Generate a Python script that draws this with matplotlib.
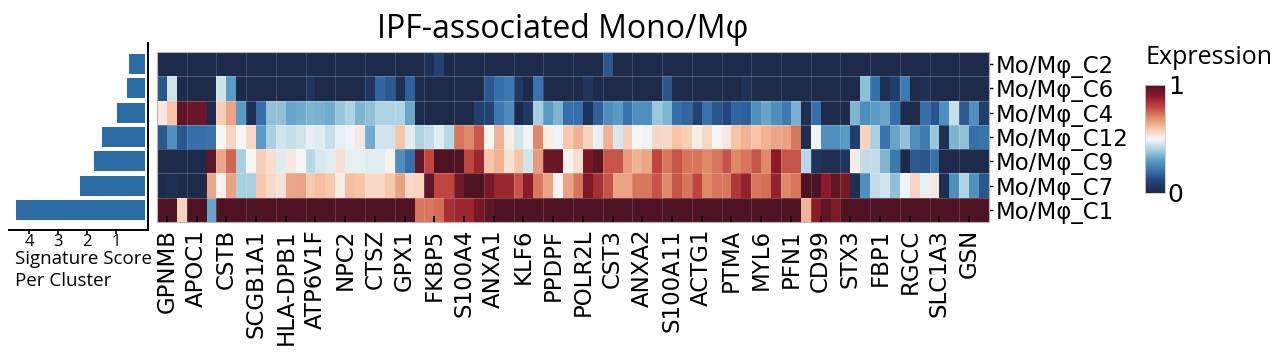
import numpy as np
import matplotlib
matplotlib.use("Agg")
import matplotlib.pyplot as plt
from matplotlib.colors import LinearSegmentedColormap, Normalize
from matplotlib.cm import ScalarMappable

# ---------------------------------------------------------------- data
genes = ["GPNMB", "APOC1", "CSTB", "SCGB1A1", "HLA-DPB1", "ATP6V1F", "NPC2",
         "CTSZ", "GPX1", "FKBP5", "S100A4", "ANXA1", "KLF6", "PPDPF", "POLR2L",
         "CST3", "ANXA2", "S100A11", "ACTG1", "PTMA", "MYL6", "PFN1", "CD99",
         "STX3", "FBP1", "RGCC", "SLC1A3", "GSN"]
clusters = ["Mo/Mφ_C2", "Mo/Mφ_C6", "Mo/Mφ_C4", "Mo/Mφ_C12",
            "Mo/Mφ_C9", "Mo/Mφ_C7", "Mo/Mφ_C1"]
scores = [0.55, 0.63, 0.97, 1.49, 1.75, 2.24, 4.45]

# scaled expression, 84 genes per cluster (only every third gene is labelled)
expr_c2 = [0, 0, 0, 0, 0, 0, 0, 0, 0, 0, 0, 0,
           0, 0, 0, 0, 0, 0, 0, 0, 0, 0, 0, 0,
           0, 0, 0, 0.03, 0.1, 0, 0, 0, 0, 0, 0, 0,
           0, 0, 0, 0, 0, 0, 0, 0, 0, 0.15, 0, 0,
           0, 0, 0, 0, 0, 0, 0, 0, 0, 0, 0, 0,
           0, 0, 0, 0, 0, 0, 0, 0, 0, 0, 0, 0,
           0, 0, 0, 0, 0, 0, 0, 0, 0, 0, 0, 0]
expr_c6 = [0.15, 0.45, 0, 0, 0, 0, 0.45, 0.3, 0, 0, 0, 0,
           0, 0, 0, 0.05, 0, 0, 0, 0, 0, 0.05, 0.18, 0.16,
           0.03, 0.17, 0, 0, 0, 0, 0, 0, 0, 0.15, 0.2, 0.22,
           0.06, 0, 0.21, 0, 0, 0, 0, 0.05, 0, 0, 0, 0,
           0, 0, 0, 0.15, 0, 0, 0, 0, 0, 0, 0, 0.04,
           0, 0, 0, 0, 0, 0, 0, 0, 0, 0, 0, 0.37,
           0.2, 0.02, 0.08, 0.22, 0, 0.03, 0, 0, 0, 0, 0, 0]
expr_c4 = [0.53, 0.6, 0.97, 0.95, 0.95, 0, 0.58, 0.65, 0.3, 0.02, 0.2, 0.37,
           0.37, 0.32, 0.33, 0.35, 0.34, 0.33, 0.38, 0.41, 0.35, 0.37, 0.41, 0.41,
           0.41, 0.32, 0, 0, 0, 0, 0, 0, 0.09, 0.1, 0.22, 0.26,
           0, 0.06, 0.4, 0.3, 0.35, 0.2, 0.2, 0.04, 0.17, 0.27, 0.3, 0.21,
           0.27, 0.27, 0.38, 0.35, 0.2, 0.18, 0.1, 0.21, 0.15, 0.12, 0.18, 0.17,
           0.27, 0.32, 0.27, 0.23, 0.34, 0.02, 0.2, 0, 0, 0, 0.35, 0.27,
           0.3, 0.32, 0.2, 0, 0, 0.2, 0.15, 0.27, 0.44, 0.16, 0.27, 0.08]
expr_c12 = [0.15, 0.27, 0.15, 0.2, 0.2, 0.21, 0.5, 0.57, 0.5, 0.56, 0.3, 0.4,
            0.45, 0.44, 0.45, 0.48, 0.47, 0.44, 0.48, 0.49, 0.53, 0.33, 0.45, 0.45,
            0.6, 0.47, 0.41, 0.43, 0.47, 0.42, 0.73, 0.7, 0.77, 0.5, 0.63, 0.52,
            0.45, 0.49, 0.7, 0.52, 0.49, 0.59, 0.63, 0.57, 0.48, 0.63, 0.46, 0.58,
            0.5, 0.49, 0.56, 0.56, 0.6, 0.58, 0.52, 0.56, 0.5, 0.53, 0.6, 0.63,
            0.6, 0.63, 0.65, 0.66, 0.73, 0.02, 0.49, 0.27, 0.27, 0.3, 0.08, 0.57,
            0.4, 0.21, 0.32, 0.37, 0.27, 0.23, 0.38, 0.02, 0.35, 0.37, 0.2, 0.21]
expr_c9 = [0, 0, 0, 0, 0, 0.97, 0.65, 0.75, 0.4, 0.5, 0.58, 0.55,
           0.47, 0.53, 0.5, 0.42, 0.46, 0.47, 0.55, 0.48, 0.48, 0.47, 0.47, 0.51,
           0.27, 0.2, 0.97, 0.8, 1, 1, 1, 0.8, 0.87, 0.6, 0.63, 0.54,
           0.6, 0.45, 0.67, 0.95, 0.95, 0.51, 0.55, 0.93, 0.97, 0.78, 0.78, 0.67,
           0.63, 0.65, 0.8, 0.73, 0.78, 0.73, 0.73, 0.7, 0.73, 0.78, 0.7, 0.73,
           0.78, 0.7, 0.9, 0.78, 0.78, 0.42, 0.04, 0.02, 0.02, 0.05, 0.52, 0.43,
           0.43, 0.35, 0.22, 0, 0.16, 0.15, 0.2, 0, 0, 0, 0, 0]
expr_c7 = [0, 0.02, 0, 0, 0, 0.65, 0.51, 0.66, 0.4, 0.4, 0.59, 0.56,
           0.54, 0.65, 0.66, 0.59, 0.61, 0.59, 0.52, 0.61, 0.6, 0.56, 0.56, 0.59,
           0.66, 0.56, 0.57, 0.97, 0.8, 0.8, 0.93, 1, 1, 0.93, 0.87, 0.87,
           0.78, 0.9, 0.73, 0.66, 0.51, 0.66, 0.73, 0.92, 0.85, 0.78, 0.66, 0.66,
           0.73, 0.73, 0.78, 0.7, 0.78, 0.73, 0.8, 0.7, 0.73, 0.73, 0.83, 0.88,
           0.73, 0.74, 0.88, 0.7, 0.73, 1, 1, 0.9, 0.97, 0.93, 0.02, 0.27,
           0.43, 0.45, 0.37, 0.49, 0.57, 0.48, 0.53, 0.02, 0.27, 0.41, 0.27, 0.15]
expr_c1 = [1, 1, 0.57, 1, 1, 0.32, 1, 1, 1, 1, 1, 1,
           1, 1, 1, 1, 1, 1, 1, 1, 1, 1, 1, 1,
           1, 1, 0.73, 0.73, 0.74, 0.85, 0.87, 0.87, 0.93, 0.97, 1, 1,
           1, 1, 1, 1, 1, 1, 1, 1, 1, 1, 1, 1,
           1, 1, 1, 1, 1, 1, 1, 1, 1, 1, 1, 1,
           1, 1, 1, 1, 1, 0.63, 0.9, 0.97, 0.92, 1, 1, 1,
           1, 1, 1, 1, 1, 1, 1, 1, 1, 1, 1, 1]

expr = np.array([expr_c2, expr_c6, expr_c4, expr_c12, expr_c9, expr_c7, expr_c1])
n_rows, n_cols = expr.shape

# ---------------------------------------------------------------- style
cmap = LinearSegmentedColormap.from_list("expr", [
    (0.0, "#1d2a4a"), (0.12, "#24467c"), (0.2, "#3570ab"), (0.3, "#5a9cc4"),
    (0.4, "#a8d0e0"), (0.5, "#f7f7f7"), (0.6, "#f7c4a6"), (0.7, "#e08a6a"),
    (0.8, "#c0453f"), (0.9, "#8a1a2a"), (1.0, "#4e1322")])
sans = ["Open Sans", "DejaVu Sans"]

W, H = 1280, 352
fig = plt.figure(figsize=(W / 100, H / 100), dpi=100)


def box(l, t, r, b):
    return [l / W, 1 - b / H, (r - l) / W, (b - t) / H]


# ---------------------------------------------------------------- heatmap
ax = fig.add_axes(box(157, 52, 989, 222))
ax.pcolormesh(np.arange(n_cols + 1), np.arange(n_rows + 1), expr,
              cmap=cmap, vmin=0, vmax=1)
ax.set_xlim(0, n_cols)
ax.set_ylim(n_rows, 0)
for y in range(1, n_rows):
    ax.axhline(y, color="white", alpha=0.22, lw=0.8)
for x in range(3, n_cols, 3):
    ax.axvline(x, color="white", alpha=0.15, lw=0.8)

ax.set_xticks(np.arange(1, n_cols, 3))
ax.set_xticklabels(genes, rotation=90, fontsize=16.5)
ax.yaxis.tick_right()
ax.set_yticks(np.arange(n_rows) + 0.5)
ax.set_yticklabels(clusters, fontsize=16.5)
ax.tick_params(axis="x", direction="in", length=4, width=1.3, pad=5)
ax.tick_params(axis="y", direction="out", length=3, width=1.0, pad=1.5)
for sp in ax.spines.values():
    sp.set_color("#b5b5b5")
    sp.set_linewidth(0.8)

# ---------------------------------------------------------------- bars
axb = fig.add_axes(box(9, 43, 148, 230))
axb.barh(np.arange(n_rows), scores, height=0.82, color="#2c6ca4")
axb.set_xlim(4.70, -0.1)
axb.set_ylim(n_rows - 0.17, -0.87)
axb.set_yticks([])
axb.set_xticks([4, 3, 2, 1])
axb.set_xticklabels(["4", "3", "2", "1"], fontsize=12, family=sans)
axb.tick_params(axis="x", length=3, width=1.2, pad=0)
for sp in ("top", "left"):
    axb.spines[sp].set_visible(False)
for sp in ("right", "bottom"):
    axb.spines[sp].set_linewidth(1.4)
fig.text(15 / W, 1 - 250 / H, "Signature Score\nPer Cluster", ha="left", va="top",
         fontsize=13.5, family=sans, linespacing=1.3)

# ---------------------------------------------------------------- colorbar
cax = fig.add_axes(box(1145, 85, 1165, 193))
cb = fig.colorbar(ScalarMappable(norm=Normalize(0, 1), cmap=cmap), cax=cax, ticks=[0, 1])
cb.ax.tick_params(length=0, pad=2, labelsize=18)
cb.outline.set_edgecolor("#cccccc")
cb.outline.set_linewidth(0.6)
fig.text(1145 / W, 1 - 57 / H, "Expression", ha="left", va="center",
         fontsize=18, family=sans)

fig.text(563 / W, 1 - 30 / H, "IPF-associated Mono/Mφ", ha="center", va="center",
         fontsize=23, family=sans)

fig.savefig("out.png", dpi=100, facecolor="white")
